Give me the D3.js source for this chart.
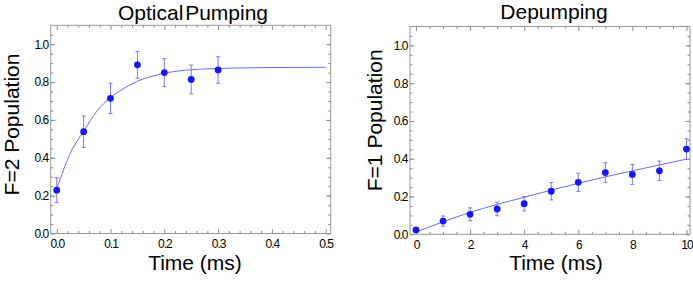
<!DOCTYPE html>
<html>
<head>
<meta charset="utf-8">
<script src="https://cdn.jsdelivr.net/npm/d3@7"></script>
<style>
body { margin: 0; background: #fff; }
svg { display: block; font-family: "Liberation Sans", Arial, sans-serif; }
.tick text { font-size: 12px; letter-spacing: -1px; fill: #000; }
.tick line { stroke: #8c8c8c; }
.title { font-size: 21px; fill: #000; }
</style>
</head>
<body>
<div id="chart"></div>
<script>
// optical pumping: measured points + error bars
var pumpTime = [0, 0.05, 0.1, 0.15, 0.2, 0.25, 0.3];
var pumpPop = [0.229, 0.538, 0.714, 0.891, 0.85, 0.814, 0.864];
var pumpErr = [0.066, 0.083, 0.08, 0.071, 0.074, 0.076, 0.07];
// fit curve
var pumpFitTime = [0, 0.025, 0.05, 0.075, 0.1, 0.125, 0.15, 0.175, 0.2, 0.225, 0.25, 0.3, 0.35, 0.4, 0.5];
var pumpFitPop = [0.235, 0.423, 0.54, 0.648, 0.718, 0.767, 0.805, 0.829, 0.847, 0.858, 0.865, 0.872, 0.875, 0.877, 0.878];

// depumping
var depTime = [0, 1, 2, 3, 4, 5, 6, 7, 8, 9, 10];
var depPop = [0.023, 0.07, 0.106, 0.134, 0.162, 0.228, 0.275, 0.327, 0.317, 0.336, 0.451];
var depErr = [0.01, 0.027, 0.034, 0.036, 0.038, 0.046, 0.048, 0.052, 0.053, 0.052, 0.055];
var depFitTime = [0, 1, 2, 3, 4, 5, 6, 7, 8, 9, 10];
var depFitPop = [0.012, 0.066, 0.116, 0.158, 0.196, 0.234, 0.27, 0.304, 0.336, 0.367, 0.398];

var yTicks = [0, 0.2, 0.4, 0.6, 0.8, 1.0];

var svg = d3.select("#chart").append("svg")
    .attr("width", 693)
    .attr("height", 281);

function drawPanel(p) {
    var x = d3.scaleLinear().domain(p.xDomain).range([p.left, p.right]);
    var y = d3.scaleLinear().domain([0, 1.1]).range([p.bottom, p.top]);
    var g = svg.append("g");

    // frame
    g.append("rect")
        .attr("x", p.left).attr("y", p.top)
        .attr("width", p.right - p.left).attr("height", p.bottom - p.top)
        .attr("fill", "none").attr("stroke", "#999").attr("stroke-width", 1);

    // minor ticks, all sides pointing inward
    var minorX = [d3.axisBottom(x), d3.axisTop(x)];
    minorX.forEach((ax, i) => {
        g.append("g")
            .attr("transform", `translate(0, ${i == 0 ? p.bottom : p.top})`)
            .call(ax.tickValues(p.xMinor).tickSize(-2.5).tickFormat(""))
            .call(s => s.select(".domain").remove());
    });
    var yMinor = d3.range(0.05, 1.1, 0.05);
    [d3.axisLeft(y), d3.axisRight(y)].forEach((ax, i) => {
        g.append("g")
            .attr("transform", `translate(${i == 0 ? p.left : p.right}, 0)`)
            .call(ax.tickValues(yMinor).tickSize(-2.5).tickFormat(""))
            .call(s => s.select(".domain").remove());
    });

    // major ticks + labels
    g.append("g")
        .attr("transform", `translate(0, ${p.bottom})`)
        .call(d3.axisBottom(x).tickValues(p.xTicks).tickSize(-4.5).tickFormat(p.xFormat))
        .call(s => s.select(".domain").remove())
        .selectAll("text").attr("y", 14.5).attr("dy", 0);
    g.append("g")
        .attr("transform", `translate(0, ${p.top})`)
        .call(d3.axisTop(x).tickValues(p.xTicks).tickSize(-4.5).tickFormat(""))
        .call(s => s.select(".domain").remove());
    g.append("g")
        .attr("transform", `translate(${p.left}, 0)`)
        .call(d3.axisLeft(y).tickValues(yTicks).tickSize(-4.5).tickPadding(2.5).tickFormat(d3.format(".1f")))
        .call(s => s.select(".domain").remove());
    g.append("g")
        .attr("transform", `translate(${p.right}, 0)`)
        .call(d3.axisRight(y).tickValues(yTicks).tickSize(-4.5).tickFormat(""))
        .call(s => s.select(".domain").remove());

    // fit line
    var line = d3.line()
        .x((d, i) => x(p.fitTime[i]))
        .y(d => y(d))
        .curve(d3.curveMonotoneX);
    g.append("path")
        .attr("d", line(p.fitPop))
        .attr("fill", "none")
        .attr("stroke", "#6b6bff")
        .attr("stroke-width", 1);

    // error bars
    var bars = g.selectAll("g.err")
        .data(p.pop).enter()
        .append("g").attr("class", "err")
        .attr("stroke", "#7a7aff").attr("stroke-width", 1);
    bars.append("line")
        .attr("x1", (d, i) => x(p.time[i])).attr("x2", (d, i) => x(p.time[i]))
        .attr("y1", (d, i) => y(d - p.err[i])).attr("y2", (d, i) => y(d + p.err[i]));
    [-1, 1].forEach(sgn => {
        bars.append("line")
            .attr("x1", (d, i) => x(p.time[i]) - 2).attr("x2", (d, i) => x(p.time[i]) + 2)
            .attr("y1", (d, i) => y(d + sgn * p.err[i])).attr("y2", (d, i) => y(d + sgn * p.err[i]));
    });

    // points
    g.selectAll("circle")
        .data(p.pop).enter()
        .append("circle")
        .attr("cx", (d, i) => x(p.time[i]))
        .attr("cy", d => y(d))
        .attr("r", 3.4)
        .attr("fill", "#1515ff");

    // titles
    g.append("text").attr("class", "title")
        .attr("x", p.titleX).attr("y", p.titleY)
        .attr("text-anchor", "middle")
        .style("word-spacing", "-4px")
        .text(p.title);
    g.append("text").attr("class", "title")
        .attr("x", p.titleX + 2).attr("y", 270)
        .attr("text-anchor", "middle")
        .text("Time (ms)");
    g.append("text").attr("class", "title")
        .attr("transform", `translate(${p.yLabelX}, ${p.yLabelY}) rotate(-90)`)
        .attr("text-anchor", "middle")
        .text(p.yLabel);
}

drawPanel({
    left: 50.7, right: 330.7, top: 25.3, bottom: 233.5,
    xDomain: [-0.0112, 0.5093],
    xTicks: [0, 0.1, 0.2, 0.3, 0.4, 0.5],
    xMinor: d3.range(0, 0.51, 0.02).filter(v => Math.abs(v * 10 - Math.round(v * 10)) > 1e-6),
    xFormat: d3.format(".1f"),
    time: pumpTime, pop: pumpPop, err: pumpErr,
    fitTime: pumpFitTime, fitPop: pumpFitPop,
    title: "Optical Pumping", titleX: 193, titleY: 19.5,
    yLabel: "F=2 Population", yLabelX: 18.5, yLabelY: 124.5
});

drawPanel({
    left: 410, right: 690, top: 26.5, bottom: 234.3,
    xDomain: [-0.222, 10.13],
    xTicks: [0, 2, 4, 6, 8, 10],
    xMinor: d3.range(0, 10.01, 0.5).filter(v => v % 2 != 0),
    xFormat: d3.format("d"),
    time: depTime, pop: depPop, err: depErr,
    fitTime: depFitTime, fitPop: depFitPop,
    title: "Depumping", titleX: 554, titleY: 18.5,
    yLabel: "F=1 Population", yLabelX: 381.7, yLabelY: 120.3
});
</script>
</body>
</html>
